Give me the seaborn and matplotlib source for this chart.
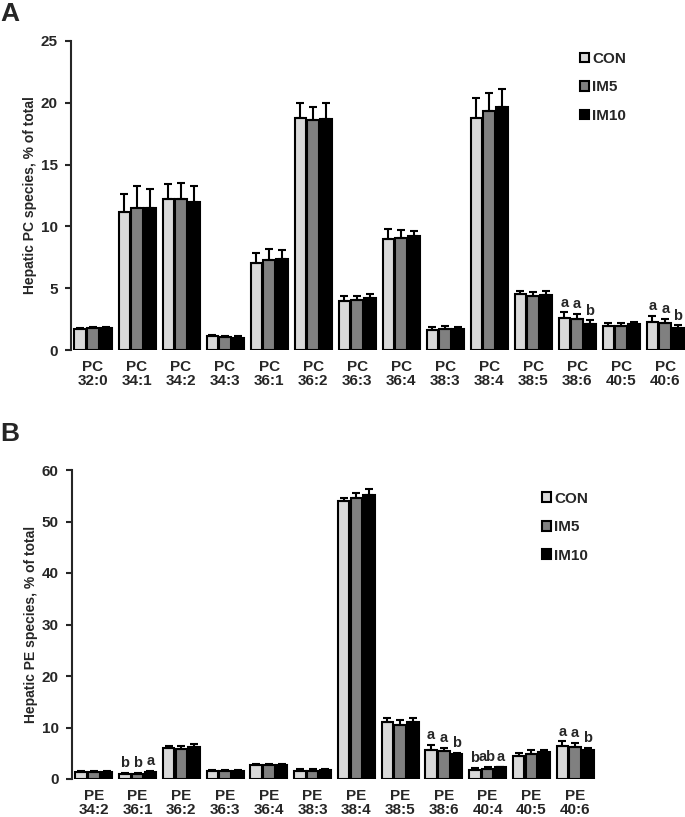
import numpy as np
import pandas as pd
import matplotlib.pyplot as plt
import seaborn as sns

sns.set_style("ticks")
plt.rcParams['font.family'] = ['Liberation Sans', 'DejaVu Sans']
plt.rcParams['font.weight'] = 'bold'

groups = ['CON', 'IM5', 'IM10']
colors = ['#d9d9d9', '#808080', '#000000']

# panel A - PC species
pc_species = ['32:0', '34:1', '34:2', '34:3', '36:1', '36:2', '36:3',
              '36:4', '38:3', '38:4', '38:5', '38:6', '40:5', '40:6']
pc_con = [1.7, 11.2, 12.25, 1.1, 7.05, 18.8, 4.0, 9.0, 1.65, 18.8, 4.5, 2.6, 1.97, 2.3]
pc_im5 = [1.75, 11.5, 12.25, 1.02, 7.3, 18.6, 4.05, 9.1, 1.7, 19.3, 4.4, 2.5, 1.97, 2.15]
pc_im10 = [1.75, 11.5, 12.0, 1.0, 7.35, 18.7, 4.2, 9.2, 1.7, 19.7, 4.45, 2.1, 2.08, 1.8]
pc_con_err = [0.1, 1.4, 1.15, 0.1, 0.8, 1.2, 0.35, 0.75, 0.25, 1.6, 0.3, 0.45, 0.25, 0.45]
pc_im5_err = [0.15, 1.8, 1.3, 0.1, 0.85, 1.1, 0.35, 0.6, 0.25, 1.5, 0.3, 0.45, 0.25, 0.35]
pc_im10_err = [0.15, 1.5, 1.27, 0.1, 0.75, 1.3, 0.35, 0.45, 0.2, 1.4, 0.3, 0.3, 0.2, 0.2]
pc_letters = {'38:6': ['a', 'a', 'b'], '40:6': ['a', 'a', 'b']}

# panel B - PE species
pe_species = ['34:2', '36:1', '36:2', '36:3', '36:4', '38:3', '38:4',
              '38:5', '38:6', '40:4', '40:5', '40:6']
pe_con = [1.4, 1.05, 6.0, 1.6, 2.65, 1.6, 53.9, 11.0, 5.7, 1.8, 4.5, 6.45]
pe_im5 = [1.4, 1.05, 5.9, 1.5, 2.65, 1.6, 54.6, 10.5, 5.4, 2.0, 4.85, 6.3]
pe_im10 = [1.35, 1.35, 6.25, 1.6, 2.65, 1.7, 55.1, 11.0, 4.85, 2.25, 5.15, 5.6]
pe_con_err = [0.2, 0.15, 0.5, 0.2, 0.2, 0.3, 0.7, 0.9, 0.9, 0.3, 0.5, 0.85]
pe_im5_err = [0.2, 0.15, 0.5, 0.2, 0.2, 0.3, 0.95, 1.0, 0.6, 0.3, 0.7, 0.65]
pe_im10_err = [0.2, 0.15, 0.5, 0.2, 0.2, 0.3, 1.2, 0.9, 0.2, 0.15, 0.4, 0.45]
pe_letters = {'36:1': ['b', 'b', 'a'], '38:6': ['a', 'a', 'b'],
              '40:4': ['b', 'ab', 'a'], '40:6': ['a', 'a', 'b']}


def draw_panel(ax, prefix, species, means, errs, letters, ymax, ystep, ylabel, leg_xy, xlim_right):
    cats = [prefix + '\n' + s for s in species]
    df = pd.DataFrame({
        'species': np.tile(cats, 3),
        'group': np.repeat(groups, len(cats)),
        'value': np.concatenate(means),
    })
    sns.barplot(data=df, x='species', y='value', hue='group', order=cats,
                hue_order=groups, palette=colors, edgecolor='black', linewidth=1.5,
                width=0.87, gap=0.1, errorbar=None, ax=ax, legend=True)
    bar_sets = list(ax.containers)
    for gi, cont in enumerate(bar_sets):
        xs = [b.get_x() + b.get_width() / 2 for b in cont]
        ys = means[gi]
        ax.errorbar(xs, ys, yerr=[np.zeros(len(ys)), errs[gi]], fmt='none',
                    ecolor='black', elinewidth=1.5, capsize=3, capthick=1.5, zorder=1)
        for si, s in enumerate(species):
            if s in letters:
                ax.annotate(letters[s][gi], (xs[si], ys[si] + errs[gi][si]),
                            xytext=(0, 2), textcoords='offset points',
                            ha='center', va='bottom', fontsize=10.5, fontweight='bold')
    ax.set_ylim(0, ymax)
    yt = np.arange(0, ymax + 1, ystep)
    ax.set_yticks(yt, [str(v) for v in yt], fontsize=11, fontweight='bold')
    ax.set_xticks(range(len(cats)), cats, fontsize=11, fontweight='bold', linespacing=1.05)
    ax.set_xlim(-0.5, xlim_right)
    sns.despine(ax=ax, bottom=True)
    ax.spines['left'].set_linewidth(1.5)
    ax.tick_params(axis='y', length=4.5, width=1.5, pad=5)
    ax.tick_params(axis='x', length=0, pad=7)
    ax.set_xlabel('')
    ax.set_ylabel(ylabel, fontsize=10, fontweight='bold', labelpad=3)
    handles, labels = ax.get_legend_handles_labels()
    ax.legend(handles, labels, loc='upper left', bbox_to_anchor=leg_xy, frameon=False,
              handlelength=0.6, handleheight=0.6, handletextpad=0.2, labelspacing=0.95,
              borderpad=0, borderaxespad=0, prop={'size': 11, 'weight': 'bold'})


fig = plt.figure(figsize=(6.85, 8.17), dpi=100)
ax1 = fig.add_axes([71 / 685, 1 - 350 / 817, 614 / 685, 309 / 817])
ax2 = fig.add_axes([72 / 685, 1 - 779 / 817, 525 / 685, 309 / 817])

draw_panel(ax1, 'PC', pc_species, [pc_con, pc_im5, pc_im10],
           [pc_con_err, pc_im5_err, pc_im10_err], pc_letters, 25, 5,
           'Hepatic PC species, % of total', (0.829, 0.965), 13.45)
draw_panel(ax2, 'PE', pe_species, [pe_con, pe_im5, pe_im10],
           [pe_con_err, pe_im5_err, pe_im10_err], pe_letters, 60, 10,
           'Hepatic PE species, % of total', (0.895, 0.93), 11.5)

fig.text(0.0, 1 - 2 / 817, 'A', fontsize=19, fontweight='bold', va='top', ha='left')
fig.text(0.0, 1 - 422 / 817, 'B', fontsize=19, fontweight='bold', va='top', ha='left')

fig.savefig('out.png', dpi=100)
